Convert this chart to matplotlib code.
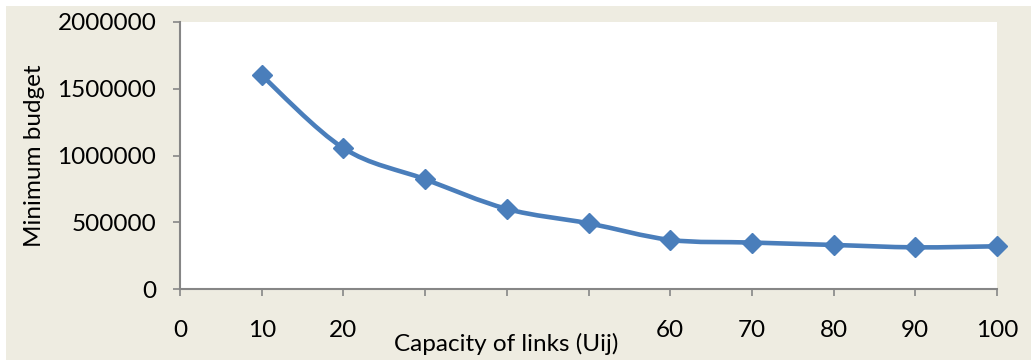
import matplotlib
matplotlib.use("Agg")
import matplotlib.pyplot as plt
from matplotlib.patches import Rectangle, PathPatch
from matplotlib.path import Path
import numpy as np

# Data
capacity = [10, 20, 30, 40, 50, 60, 70, 80, 90, 100]
budget = [1600000, 1055000, 822000, 600000, 492000, 368000, 348000, 330000, 312000, 320000]

x_ticks = [0, 10, 20, 30, 40, 50, 60, 70, 80, 90, 100]
x_tick_labels = ["0", "10", "20", "", "", "", "60", "70", "80", "90", "100"]
y_ticks = [0, 500000, 1000000, 1500000, 2000000]

plt.rcParams['font.family'] = ['Lato', 'DejaVu Sans']

W, H = 1031, 361
fig = plt.figure(figsize=(W / 100, H / 100), dpi=100)
fig.patch.set_facecolor('white')

# Beige chart area behind the plot
fig.patches.append(Rectangle((6 / W, 1 / H), 1 - 6 / W, (H - 7) / H,
                             transform=fig.transFigure, facecolor='#EEECE1',
                             edgecolor='none', zorder=-10))

ax = fig.add_axes([180 / W, (H - 289) / H, 817 / W, 267 / H])
ax.set_zorder(1)
ax.set_facecolor('white')

blue = '#4A7EBB'

# Smoothed line through the points (Excel-style Bezier segments)
pts = np.column_stack([capacity, budget]).astype(float)
verts = [pts[0]]
codes = [Path.MOVETO]
for i in range(len(pts) - 1):
    p0 = pts[i - 1] if i > 0 else pts[i]
    p1 = pts[i]
    p2 = pts[i + 1]
    p3 = pts[i + 2] if i + 2 < len(pts) else pts[i + 1]
    c1 = p1 + (p2 - p0) / 6.0
    c2 = p2 - (p3 - p1) / 6.0
    verts += [c1, c2, p2]
    codes += [Path.CURVE4] * 3
ax.add_patch(PathPatch(Path(verts, codes), facecolor='none', edgecolor=blue,
                       linewidth=3.3, capstyle='round', joinstyle='round', zorder=3))
ax.plot(capacity, budget, linestyle='none', marker='D', markersize=10,
        color=blue, zorder=4, clip_on=False)

ax.set_xlim(0, 100)
ax.set_ylim(0, 2000000)
ax.set_xticks(x_ticks)
ax.set_xticklabels(x_tick_labels)
ax.set_yticks(y_ticks)
ax.set_yticklabels([str(v) for v in y_ticks])

for s in ['top', 'right']:
    ax.spines[s].set_visible(False)
for s in ['left', 'bottom']:
    ax.spines[s].set_color('#868686')
    ax.spines[s].set_linewidth(1.5)

ax.tick_params(axis='both', direction='out', length=5, width=1.2, color='#868686',
               labelsize=17.5, labelcolor='black')
ax.tick_params(axis='x', pad=17)
ax.tick_params(axis='y', pad=12)

ax.set_ylabel('Minimum budget', fontsize=17.5)
ax.yaxis.set_label_coords(-0.165, 0.5)
ax.set_xlabel('Capacity of links (Uij)', fontsize=17.5)
ax.xaxis.set_label_coords(0.399, -0.165)

fig.savefig('out.png', dpi=100, facecolor=fig.get_facecolor())
